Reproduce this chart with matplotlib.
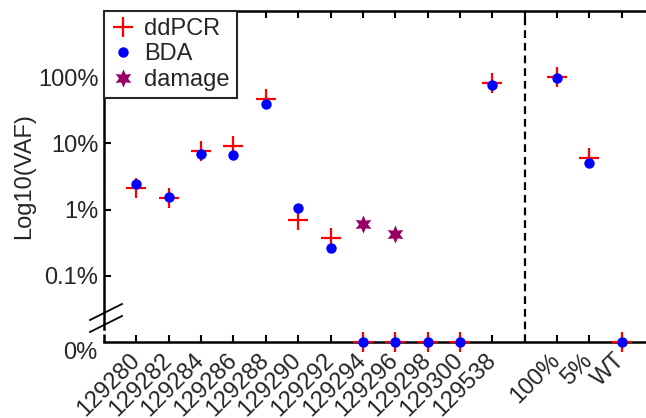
"""VAF comparison of ddPCR and BDA per sample, log scale with broken zero."""

import matplotlib

matplotlib.use("Agg")
import matplotlib.pyplot as plt
from matplotlib.ticker import NullLocator
from matplotlib.transforms import ScaledTranslation

plt.rcParams["font.family"] = ["Liberation Sans", "DejaVu Sans"]

# samples left of the dashed line, controls right of it
samples = ["129280", "129282", "129284", "129286", "129288", "129290",
           "129292", "129294", "129296", "129298", "129300", "129538"]
controls = ["100%", "5%", "WT"]

# VAF in percent, 0 means not detected (drawn on the 0% floor)
ddpcr_samples = [2.08, 1.47, 7.6, 9.0, 46.0, 0.70, 0.377, 0, 0, 0, 0, 81.0]
bda_samples = [2.4, 1.52, 7.0, 6.6, 39.0, 1.04, 0.265, 0, 0, 0, 0, 76.0]
ddpcr_controls = [100.0, 5.9, 0]
bda_controls = [97.0, 5.0, 0]

damage_samples = ["129294", "129296"]
damage_vaf = [0.61, 0.43]

ZERO_FLOOR = 0.01  # where 0% sits on the log axis
TEXT = "#262626"
FS = 17


def floor_zero(vals):
    return [v if v > 0 else ZERO_FLOOR for v in vals]


def main() -> None:
    fig = plt.figure(figsize=(6.46, 4.18), dpi=100)
    ax = fig.add_axes([0.161, 0.182, 0.839, 0.792])

    x_samples = list(range(1, len(samples) + 1))
    split = len(samples) + 1
    x_controls = list(range(split + 1, split + 1 + len(controls)))
    xs = x_samples + x_controls

    ddpcr = floor_zero(ddpcr_samples + ddpcr_controls)
    bda = floor_zero(bda_samples + bda_controls)
    x_damage = [x_samples[samples.index(s)] for s in damage_samples]

    ax.plot(xs, ddpcr, ls="none", marker="+", ms=14, mew=1.6, color="red",
            label="ddPCR", clip_on=False, zorder=3)
    ax.plot(xs, bda, ls="none", marker="o", ms=7.5, mew=0, color="blue",
            label="BDA", clip_on=False, zorder=4)
    ax.plot(x_damage, damage_vaf, ls="none", marker=(6, 1, 0), ms=13, mew=0,
            color="#990066", label="damage", zorder=4)

    ax.axvline(split, color="black", lw=1.6, ls=(0, (3.5, 2.2)), zorder=2)

    ax.set_yscale("log")
    ax.set_ylim(ZERO_FLOOR, 1000)
    ax.set_xlim(0, 16.75)

    ax.set_yticks([0.1, 1, 10, 100])
    ax.set_yticklabels(["0.1%", "1%", "10%", "100%"])
    ax.yaxis.set_minor_locator(NullLocator())
    ax.text(-0.012, ZERO_FLOOR, "0%", transform=ax.get_yaxis_transform(),
            ha="right", va="top", fontsize=FS, color=TEXT)

    ax.set_xticks(xs[:len(samples)] + [split] + x_controls)
    ax.set_xticklabels(samples + [""] + controls, rotation=45, ha="right",
                       va="center", rotation_mode="anchor")
    shift = ScaledTranslation(5 / 72, 0, fig.dpi_scale_trans)
    for lab in ax.get_xticklabels():
        lab.set_transform(lab.get_transform() + shift)

    ax.tick_params(axis="both", direction="in", length=5, width=1.5,
                   labelsize=FS, labelcolor=TEXT, top=True)
    ax.tick_params(axis="x", pad=11)
    ax.tick_params(axis="y", pad=4)

    for side in ("left", "bottom", "top"):
        ax.spines[side].set_linewidth(1.8)
    ax.spines["right"].set_visible(False)

    # axis break on the left spine between 0.1% and 0%
    ax.spines["left"].set_bounds(ZERO_FLOOR * 1.55, 1000)
    ax.plot([0, 0], [ZERO_FLOOR, ZERO_FLOOR * 1.3], color="black", lw=1.8,
            clip_on=False, solid_capstyle="butt")
    for y0, y1 in ((320, 304), (332, 316)):
        line = plt.Line2D([90 / 646, 122 / 646],
                          [1 - y0 / 418, 1 - y1 / 418],
                          transform=fig.transFigure, color="black", lw=1.3)
        fig.add_artist(line)

    ax.set_ylabel("Log10(VAF)", fontsize=FS, color=TEXT, labelpad=2)

    leg = ax.legend(loc="upper left", borderaxespad=0, fontsize=FS,
                    fancybox=False, handlelength=1.0, handletextpad=0.4,
                    borderpad=0.3, labelspacing=0.15, framealpha=1)
    leg.get_frame().set_edgecolor(TEXT)
    leg.get_frame().set_linewidth(1.5)
    for txt in leg.get_texts():
        txt.set_color(TEXT)

    fig.savefig("out.png", dpi=100)
    plt.close(fig)


if __name__ == "__main__":
    main()
